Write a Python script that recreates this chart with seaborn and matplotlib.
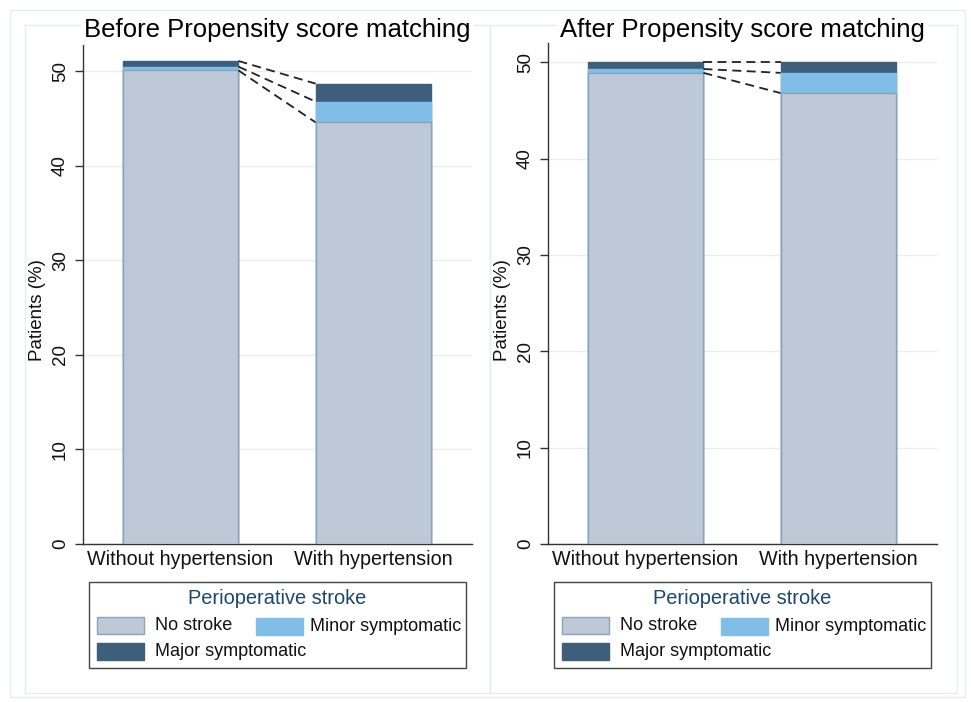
import pandas as pd
import numpy as np
import matplotlib.pyplot as plt
import seaborn as sns
from matplotlib.patches import Rectangle

# values (percent of patients)
groups = ['Without hypertension', 'With hypertension']
titles = ['Before Propensity score matching', 'After Propensity score matching']
no_stroke = [[50.1, 44.6], [48.9, 46.8]]
minor = [[0.4, 2.2], [0.4, 2.1]]
major = [[0.6, 1.9], [0.7, 1.1]]
ylims = [53.0, 52.0]
yticks = [0, 10, 20, 30, 40, 50]
legend_title = 'Perioperative stroke'
legend_labels = ['No stroke', 'Minor symptomatic', 'Major symptomatic']

c_none = '#bdc9d6'
c_none_edge = '#8ca2ba'
c_minor = '#80bee8'
c_major = '#3e5f7b'
c_frame = '#e6edf2'
navy = '#1a476f'

sns.set_style('white')
plt.rcParams['font.family'] = ['Liberation Sans', 'DejaVu Sans']
plt.rcParams['text.color'] = '#111111'
plt.rcParams['axes.labelcolor'] = '#111111'
plt.rcParams['xtick.color'] = '#111111'
plt.rcParams['ytick.color'] = '#111111'

W, H = 971, 702
fig = plt.figure(figsize=(W/100, H/100), dpi=100)


def fx(px):
    return px / W


def fy(py):
    return 1 - py / H


def box(x0, y0, x1, y1, **kw):
    # rectangle given in pixel coords (top-left origin)
    fig.add_artist(Rectangle((fx(x0), fy(y1)), fx(x1 - x0), (y1 - y0) / H,
                             transform=fig.transFigure, **kw))


# light frames like a combined Stata graph (behind the axes and titles)
box(10, 10, 965, 697, fill=False, ec=c_frame, lw=1, zorder=-2)
for x0, x1 in [(25, 490), (490, 957)]:
    box(x0, 25, x1, 693, fill=False, ec=c_frame, lw=1, zorder=-2)

width = 0.6
offsets = [0, 465]
for i in range(2):
    off = offsets[i]
    ax = fig.add_axes([fx(83 + off), fy(544), fx(389), 501 / H])
    ax.patch.set_alpha(0)
    df = pd.DataFrame({'group': groups, 'none': no_stroke[i], 'minor': minor[i], 'major': major[i]})
    df['c1'] = df['none']
    df['c2'] = df['none'] + df['minor']
    df['c3'] = df['c2'] + df['major']

    # stacked bars drawn as overlapping cumulative totals
    sns.barplot(data=df, x='group', y='c3', color=c_major, width=width, ax=ax,
                edgecolor=c_major, linewidth=1, saturation=1, zorder=2)
    sns.barplot(data=df, x='group', y='c2', color=c_minor, width=width, ax=ax,
                edgecolor=c_minor, linewidth=1, saturation=1, zorder=3)
    sns.barplot(data=df, x='group', y='c1', color=c_none, width=width, ax=ax,
                edgecolor=c_none_edge, linewidth=1, saturation=1, zorder=4)

    # dashed connectors between bar tops
    for col in ['c1', 'c2', 'c3']:
        ax.plot([width/2, 1-width/2], [df[col][0], df[col][1]], ls=(0, (5, 3)),
                color='#222222', lw=1.3, zorder=5)

    ax.set_xlim(-0.505, 1.51)
    ax.set_ylim(0, ylims[i])
    ax.set_yticks(yticks)
    ax.yaxis.grid(True, color='#e8eef3', lw=1)
    ax.set_axisbelow(True)
    for s in ['top', 'right']:
        ax.spines[s].set_visible(False)
    for s in ['left', 'bottom']:
        ax.spines[s].set_color('#333333')
        ax.spines[s].set_linewidth(1)
    ax.tick_params(axis='y', left=True, length=6, width=1, color='#333333',
                   labelrotation=90, labelsize=13.5, pad=4)
    ax.tick_params(axis='x', bottom=False, labelsize=14.2, pad=1)
    for lab in ax.get_yticklabels():
        lab.set_verticalalignment('center')
    ax.set_xlabel('')
    ax.set_ylabel('Patients (%)', fontsize=13.5)
    ax.yaxis.set_label_coords(-0.095, 0.467)
    ax.set_title(titles[i], fontsize=18.5, pad=4, color='black',
                 bbox=dict(fc='white', ec='none', pad=2))

    # legend drawn by hand so that the text can run under the second column
    box(89 + off, 582, 466 + off, 668, fill=True, fc='white', ec='#444444', lw=1)
    fig.text(fx(277 + off), fy(598), legend_title, ha='center', va='center',
             fontsize=14.4, color=navy)
    entries = [(97, 617, c_none, c_none_edge, 155, legend_labels[0]),
               (256, 618, c_minor, c_minor, 310, legend_labels[1]),
               (97, 643, c_major, c_major, 155, legend_labels[2])]
    for px, py, fc, ec, tx, lab in entries:
        box(px + off, py, px + 47 + off, py + 17, fc=fc, ec=ec, lw=1)
        fig.text(fx(tx + off), fy(py + 8.5), lab, ha='left', va='center',
                 fontsize=13, color='#111111')

fig.savefig('out.png', dpi=100)
